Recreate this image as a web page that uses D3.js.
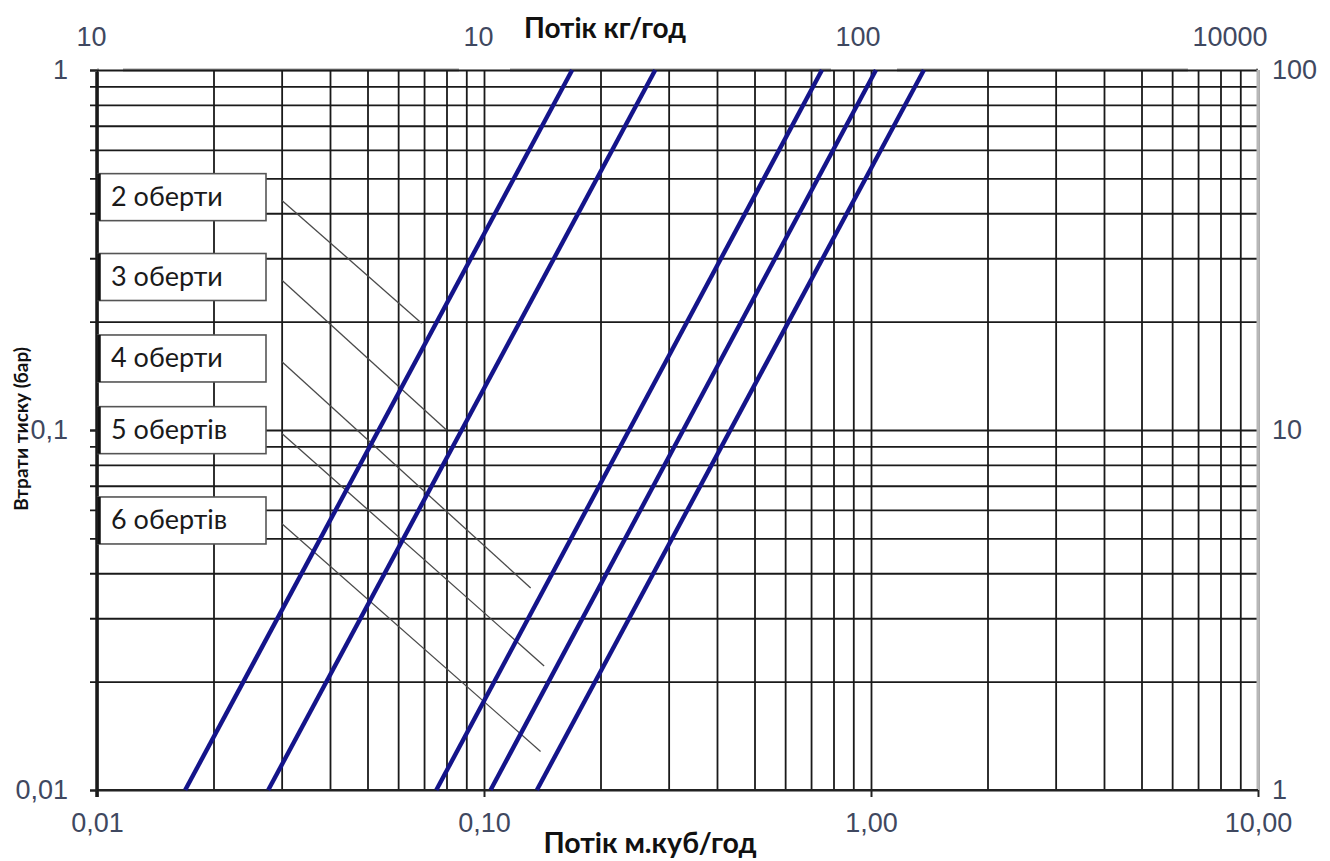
<!DOCTYPE html>
<html>
<head>
<meta charset="utf-8">
<script src="https://cdn.jsdelivr.net/npm/d3@7"></script>
<style>
    body { margin: 0; background: #fff; }
    .tick-label { font-family: "Liberation Sans", Arial, sans-serif; font-size: 27px; fill: #3f4860; }
    .title { font-family: Lato, "Open Sans", sans-serif; font-weight: bold; fill: #111; }
    .box-text { font-family: Lato, "Open Sans", sans-serif; font-size: 27px; fill: #1a1a1a; }
</style>
</head>
<body>
<div id="chart"></div>
<script>
// Bottom axis: flow, m3/h
const xTicks = [0.01, 0.1, 1, 10];
const xTickLabels = ["0,01", "0,10", "1,00", "10,00"];
// Top axis: flow, kg/h (labels as printed)
const topTickLabels = ["10", "10", "100", "10000"];
// Left axis: pressure loss, bar
const yTicks = [0.01, 0.1, 1];
const yTickLabels = ["0,01", "0,1", "1"];
// Right axis
const rightTicks = [1, 10, 100];
const rightTickLabels = ["1", "10", "100"];

// Valve curves: flow at 0.01 bar and at 1 bar
const curveFlowLow = [0.0169, 0.0277, 0.0753, 0.104, 0.137];
const curveFlowHigh = [0.169, 0.277, 0.747, 1.03, 1.37];

// Turn labels and their leader lines
const turnLabels = ["2 оберти", "3 оберти", "4 оберти", "5 обертів", "6 обертів"];
const leaderStartFlow = [0.03, 0.03, 0.03, 0.03, 0.03];
const leaderStartDp = [0.435, 0.261, 0.155, 0.098, 0.055];
const leaderEndFlow = [0.069, 0.080, 0.132, 0.143, 0.140];
const leaderEndDp = [0.198, 0.1, 0.0364, 0.0221, 0.0128];

const width = 1330, height = 861;
const plot = { left: 97, right: 1258, top: 70, bottom: 790 };

const svg = d3.select("#chart")
    .append("svg")
    .attr("width", width)
    .attr("height", height);

const x = d3.scaleLog().domain([0.01, 10]).range([plot.left, plot.right]);
const y = d3.scaleLog().domain([0.01, 1]).range([plot.bottom, plot.top]);
const yRight = d3.scaleLog().domain([1, 100]).range([plot.bottom, plot.top]);

// top border (gray)
svg.append("line")
    .attr("x1", plot.left).attr("x2", plot.right)
    .attr("y1", plot.top).attr("y2", plot.top)
    .attr("stroke", "#9a9a9a")
    .attr("stroke-width", 3);

const maskLayer = svg.append("g");

// vertical grid
svg.append("g")
    .attr("transform", `translate(0,${plot.bottom})`)
    .call(d3.axisBottom(x).ticks(10).tickSize(-(plot.bottom - plot.top)).tickFormat(""))
    .call(g => g.select(".domain").remove())
    .call(g => g.selectAll("line").attr("stroke", "#1a1a1a").attr("stroke-width", 1.8));

// horizontal grid, extending past left axis as ticks
svg.append("g")
    .attr("transform", `translate(${plot.right},0)`)
    .call(d3.axisLeft(y).ticks(10).tickSize(plot.right - plot.left + 7).tickFormat(""))
    .call(g => g.select(".domain").remove())
    .call(g => g.selectAll("line").attr("stroke", "#1a1a1a").attr("stroke-width", 1.8));

// right border
svg.append("line")
    .attr("x1", plot.right).attr("x2", plot.right)
    .attr("y1", plot.top).attr("y2", plot.bottom)
    .attr("stroke", "#b8b8b8")
    .attr("stroke-width", 3);

// bottom axis line + major ticks + labels
const xAxis = svg.append("g")
    .attr("transform", `translate(0,${plot.bottom})`)
    .call(d3.axisBottom(x).tickValues(xTicks).tickSize(7).tickFormat((d, i) => xTickLabels[i]));
xAxis.select(".domain").attr("stroke", "#222").attr("stroke-width", 2).attr("d", `M${plot.left},0H${plot.right}`);
xAxis.selectAll("line").attr("stroke", "#222").attr("stroke-width", 2);
xAxis.selectAll("text").attr("class", "tick-label").attr("fill", null).attr("font-size", null)
    .attr("font-family", null).attr("y", 23).attr("dy", "0.71em");

// left axis line + labels
const yAxis = svg.append("g")
    .attr("transform", `translate(${plot.left},0)`)
    .call(d3.axisLeft(y).tickValues(yTicks).tickSize(7).tickFormat((d, i) => yTickLabels[i]));
yAxis.select(".domain").attr("stroke", "#1a1a1a").attr("stroke-width", 3.5).attr("d", `M0,${plot.top + 2}V${plot.bottom + 7}`);
yAxis.selectAll("line").attr("stroke", "#222").attr("stroke-width", 2);
yAxis.selectAll("text").attr("class", "tick-label").attr("fill", null).attr("font-size", null)
    .attr("font-family", null).attr("x", -29);

// right axis labels
const rAxis = svg.append("g")
    .attr("transform", `translate(${plot.right},0)`)
    .call(d3.axisRight(yRight).tickValues(rightTicks).tickSize(0).tickFormat((d, i) => rightTickLabels[i]));
rAxis.select(".domain").remove();
rAxis.selectAll("text").attr("class", "tick-label").attr("fill", null).attr("font-size", null)
    .attr("font-family", null).attr("x", 14);

// top axis labels
const tAxis = svg.append("g")
    .attr("transform", `translate(0,${plot.top})`)
    .call(d3.axisTop(x).tickValues(xTicks).tickSize(0).tickFormat((d, i) => topTickLabels[i]));
tAxis.select(".domain").remove();
tAxis.selectAll("text").attr("class", "tick-label").attr("fill", null).attr("font-size", null)
    .attr("font-family", null).attr("text-anchor", "end").attr("x", 9).attr("y", -24);

// gaps in the top border under the top labels
tAxis.selectAll(".tick").each(function(d) {
    const b = this.querySelector("text").getBBox();
    const tx = x(d);
    const x0 = Math.max(plot.left + 2, tx + b.x - 4);
    const x1 = Math.min(plot.right - 2, tx + b.x + b.width + 17);
    maskLayer.append("rect")
        .attr("x", x0).attr("y", plot.top - 3)
        .attr("width", Math.max(0, x1 - x0)).attr("height", 5)
        .attr("fill", "#fff");
});

// leader lines
const leaders = turnLabels.map((t, i) => ({
    label: t,
    x1: leaderStartFlow[i], y1: leaderStartDp[i],
    x2: leaderEndFlow[i], y2: leaderEndDp[i]
}));

svg.append("g")
    .selectAll("line")
    .data(leaders)
    .enter()
    .append("line")
    .attr("x1", d => x(d.x1)).attr("y1", d => y(d.y1))
    .attr("x2", d => x(d.x2)).attr("y2", d => y(d.y2))
    .attr("stroke", "#4a4a4a")
    .attr("stroke-width", 1.3);

// valve curves
const curves = curveFlowLow.map((q, i) => [[q, 0.01], [curveFlowHigh[i], 1]]);
const line = d3.line().x(d => x(d[0])).y(d => y(d[1]));

svg.append("g")
    .selectAll("path")
    .data(curves)
    .enter()
    .append("path")
    .attr("d", line)
    .attr("fill", "none")
    .attr("stroke", "#14148a")
    .attr("stroke-width", 4.4);

// label boxes
const boxW = 168, boxH = 47;
const boxes = svg.append("g")
    .selectAll("g")
    .data(leaders)
    .enter()
    .append("g")
    .attr("transform", d => `translate(${plot.left + 1},${y(d.y1) - 3 - boxH / 2})`);

boxes.append("rect")
    .attr("width", boxW).attr("height", boxH)
    .attr("fill", "#fff")
    .attr("stroke", "#555")
    .attr("stroke-width", 1.6);

boxes.append("line")
    .attr("x1", 1).attr("x2", 1)
    .attr("y1", 0).attr("y2", boxH)
    .attr("stroke", "#111")
    .attr("stroke-width", 3.5);

boxes.append("text")
    .attr("class", "box-text")
    .attr("x", 13)
    .attr("y", boxH / 2 + 9)
    .text(d => d.label);

// titles
svg.append("text")
    .attr("class", "title")
    .attr("x", 605).attr("y", 38)
    .attr("text-anchor", "middle")
    .attr("font-size", 28)
    .text("Потік кг/год");

svg.append("text")
    .attr("class", "title")
    .attr("x", 650).attr("y", 853)
    .attr("text-anchor", "middle")
    .attr("font-size", 28.5)
    .text("Потік м.куб/год");

svg.append("text")
    .attr("class", "title")
    .attr("transform", "translate(28,429) rotate(-90)")
    .attr("text-anchor", "middle")
    .attr("font-size", 19)
    .text("Втрати тиску (бар)");
</script>
</body>
</html>
